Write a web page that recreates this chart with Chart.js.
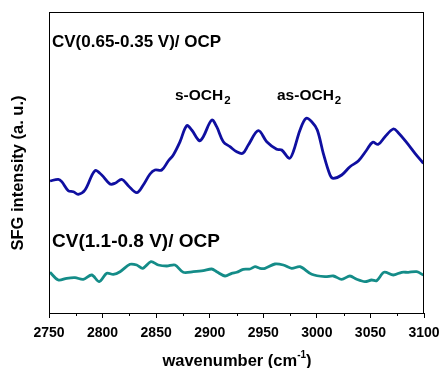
<!DOCTYPE html>
<html>
<head>
<meta charset="utf-8">
<script src="https://cdn.jsdelivr.net/npm/chart.js@4.4.1/dist/chart.umd.min.js"></script>
<style>
  html, body { margin: 0; padding: 0; background: #fff; }
  #wrap { width: 440px; height: 368px; }
</style>
</head>
<body>
<div id="wrap"><canvas id="sfgChart" width="440" height="368"></canvas></div>
<script>
// wavenumber (cm-1) and intensity (a.u.)
var cvHighWn = [2751, 2758.7, 2761.9, 2768, 2772.7, 2777.3, 2783.6, 2792.9, 2799.2, 2806.9,
    2811.6, 2817.9, 2824, 2831.9, 2838, 2844.3, 2848.9, 2855.2, 2861.3, 2866,
    2872.3, 2878.5, 2883.2, 2890.3, 2894, 2901.9, 2906.5, 2912.7, 2918.9, 2925.2,
    2930.8, 2936, 2945.4, 2953.2, 2962.5, 2967.2, 2974.3, 2978, 2984.3, 2989.9,
    2995.2, 3000.4, 3006, 3012.3, 3015.4, 3023.2, 3030.9, 3038.7, 3046.5, 3052.1,
    3057.3, 3063.6, 3071.3, 3076, 3083.9, 3091.6, 3099.4];
var cvHighVal = [132, 133.7, 131.3, 122.3, 121.3, 118.7, 123, 142.3, 138, 129,
    129.7, 133.7, 127.3, 120.3, 128, 139, 143, 143, 152, 158,
    171.3, 187.3, 183, 172.3, 176.3, 193, 186.3, 171.3, 166.3, 161.3,
    159.7, 168, 182.3, 171.3, 163.7, 163, 154.7, 161.3, 183, 194.7,
    191.3, 183, 159.7, 138, 134.7, 138, 146.3, 152, 163, 170.7,
    168.7, 176.3, 184, 180.3, 170.3, 159.7, 149.7];

var cvLowWn = [2750.9, 2758.7, 2766.5, 2774.3, 2782, 2789.9, 2796.9, 2803.9, 2810, 2816.3,
    2825.6, 2831.9, 2837.5, 2845.2, 2852, 2859.9, 2867.6, 2875.3, 2884.7, 2894,
    2901.9, 2906.5, 2914.3, 2920.5, 2925.2, 2931.3, 2937.6, 2942.3, 2946.9, 2951.6,
    2960.9, 2968.7, 2976.5, 2984.3, 2995.2, 3007.6, 3015.4, 3023.2, 3030.9, 3037.2,
    3044.9, 3051.1, 3055.8, 3062.7, 3071.3, 3079.2, 3085.3, 3093.2, 3099.4];
var cvLowVal = [40.7, 33, 34.7, 35.3, 33.7, 38, 31.3, 39.7, 38.7, 41.3,
    48.7, 48, 44.7, 51.3, 48, 47, 48, 40.7, 41.3, 42.3,
    44, 41.3, 37, 39.7, 40.7, 43.7, 44, 46.3, 44.7, 44.7,
    49, 48, 44.7, 46.3, 38.7, 36.3, 37, 33.7, 37, 33.7,
    31.3, 33, 32.3, 40.7, 38, 40.7, 40.7, 41.3, 38];

var seriesNames = ['CV(0.65-0.35 V)/ OCP', 'CV(1.1-0.8 V)/ OCP'];
var peakLabels = ['s-OCH', 'as-OCH'];
var peakLabelWn = [2867.6, 2962.8];

function toPoints(xs, ys) {
    return xs.map(function (x, i) { return { x: x, y: ys[i] }; });
}

var bold = function (size) { return 'bold ' + size + 'px "Liberation Sans", Arial, sans-serif'; };

var frame = {
    id: 'frame',
    afterDraw: function (chart) {
        var ctx = chart.ctx;
        var a = chart.chartArea;
        var xs = chart.scales.x;
        ctx.save();
        ctx.strokeStyle = '#000';
        ctx.lineWidth = 1;
        ctx.strokeRect(a.left + 0.5, a.top + 0.5, a.right - a.left - 1, a.bottom - a.top);

        // minor ticks
        for (var v = 2775; v < 3100; v += 50) {
            var px = Math.round(xs.getPixelForValue(v)) + 0.5;
            ctx.beginPath();
            ctx.moveTo(px, a.bottom);
            ctx.lineTo(px, a.bottom + 3);
            ctx.stroke();
        }

        ctx.fillStyle = '#000';
        ctx.textBaseline = 'alphabetic';

        // series labels
        ctx.font = bold(17);
        ctx.fillText(seriesNames[0], a.left + 3, 47);
        ctx.font = bold(19);
        ctx.fillText(seriesNames[1], a.left + 3, 247);

        // peak labels with subscript 2
        for (var i = 0; i < peakLabels.length; i++) {
            var lx = xs.getPixelForValue(peakLabelWn[i]);
            ctx.font = bold(15.5);
            ctx.fillText(peakLabels[i], lx, 100);
            var w = ctx.measureText(peakLabels[i]).width;
            ctx.font = bold(11.5);
            ctx.fillText('2', lx + w + 1, 104);
        }

        // x title
        ctx.font = bold(16.5);
        var t1 = 'wavenumber (cm';
        var w1 = ctx.measureText(t1).width;
        ctx.font = bold(10);
        var wsup = ctx.measureText('-1').width;
        ctx.font = bold(16.5);
        var wEnd = ctx.measureText(')').width;
        var tx = 237 - (w1 + wsup + wEnd) / 2;
        ctx.fillText(t1, tx, 366);
        ctx.font = bold(10);
        ctx.fillText('-1', tx + w1, 358);
        ctx.font = bold(16.5);
        ctx.fillText(')', tx + w1 + wsup, 366);

        // y title
        ctx.translate(23, 173);
        ctx.rotate(-Math.PI / 2);
        ctx.textAlign = 'center';
        ctx.font = bold(16.5);
        ctx.fillText('SFG intensity (a. u.)', 0, 0);
        ctx.restore();
    }
};

var ctx = document.getElementById('sfgChart');
new Chart(ctx, {
    type: 'line',
    data: {
        datasets: [{
            label: seriesNames[0],
            data: toPoints(cvHighWn, cvHighVal),
            borderColor: '#0f0fa0',
            borderWidth: 2.8,
            pointRadius: 0,
            tension: 0.35,
            fill: false
        }, {
            label: seriesNames[1],
            data: toPoints(cvLowWn, cvLowVal),
            borderColor: '#148c88',
            borderWidth: 2.8,
            pointRadius: 0,
            tension: 0.3,
            fill: false
        }]
    },
    options: {
        responsive: false,
        animation: false,
        layout: { padding: { left: 0, top: 12, right: 16, bottom: 0 } },
        scales: {
            x: {
                type: 'linear',
                min: 2750,
                max: 3100,
                afterFit: function (scale) {
                    scale.height = 55;
                    scale.paddingLeft = 0;
                    scale.paddingRight = 0;
                },
                ticks: {
                    stepSize: 50,
                    color: '#000',
                    padding: 7,
                    maxRotation: 0,
                    font: { family: '"Liberation Sans", Arial, sans-serif', size: 14, weight: 'bold' },
                    callback: function (v) { return v; }
                },
                grid: { display: true, drawOnChartArea: false, tickLength: 5, color: '#000' },
                border: { display: false }
            },
            y: {
                min: 0,
                max: 301,
                afterFit: function (scale) { scale.width = 49; },
                ticks: { display: false },
                grid: { display: false },
                border: { display: false }
            }
        },
        plugins: {
            legend: { display: false },
            tooltip: { enabled: false }
        }
    },
    plugins: [frame]
});
</script>
</body>
</html>
